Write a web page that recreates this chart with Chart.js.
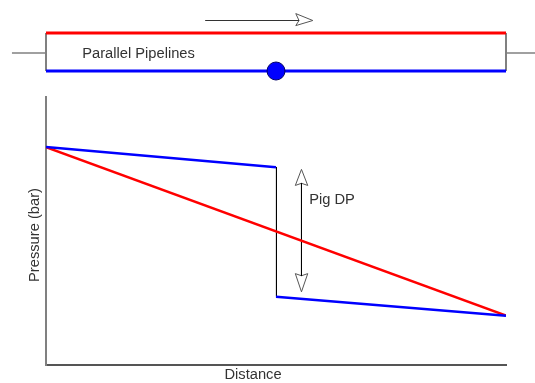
<!DOCTYPE html>
<html>
<head>
<meta charset="utf-8">
<title>Parallel Pipelines</title>
<script src="https://cdn.jsdelivr.net/npm/chart.js@4"></script>
<style>
  html, body { margin: 0; padding: 0; background: #fff; overflow: hidden; }
  .box { position: absolute; left: 0; width: 535px; }
  #pipeBox { top: 0; height: 90px; }
  #pressureBox { top: 90px; height: 293px; }
</style>
</head>
<body>
<div class="box" id="pipeBox"><canvas id="pipes"></canvas></div>
<div class="box" id="pressureBox"><canvas id="pressure"></canvas></div>
<script>
// pressure profile along the pipeline, distance 0-100
const upstreamX = [0, 50];
const upstreamP = [81.3, 73.8];
const downstreamX = [50, 100];
const downstreamP = [25.5, 18.4];
const dropX = [50.1, 50.1];
const dropP = [73.8, 25.5];
const redDistance = [0, 100];
const redLine = [81.3, 18.4];
const dpArrowX = [55.54, 55.54];
const dpArrowY = [67.8, 33.3];
const dpHeadX = [54.2, 55.54, 56.9, 55.54, 54.2];
const dpHeadTopY = [67, 73, 67, 67.8, 67];
const dpHeadBottomY = [34.1, 27.3, 34.1, 33.3, 34.1];

// schematic above the plot, same distance scale
const pipeX = [0, 100];
const redPipe = [57, 57];
const bluePipe = [19, 19];
const endY = [19, 57];
const stubLeftX = [-7.4, 0];
const stubRightX = [100, 106.3];
const stubY = [37, 37];
const flowX = [34.6, 55];
const flowY = [69.5, 69.5];
const flowHeadX = [54.3, 58, 54.3, 55, 54.3];
const flowHeadY = [76.4, 69.5, 64.4, 69.5, 76.4];
const pigX = [50];
const pigY = [19];

const font = "14.7px 'Liberation Sans', Arial, sans-serif";
const textColor = "#333333";

function line(xs, ys, color, width, extra) {
  return Object.assign({
    data: xs.map(function (x, i) { return { x: x, y: ys[i] }; }),
    showLine: true,
    borderColor: color,
    backgroundColor: color,
    borderWidth: width,
    pointRadius: 0,
    tension: 0,
    fill: false,
  }, extra || {});
}

// text placed at pixel positions of the canvas
function textPlugin(items) {
  return {
    id: "texts",
    afterDraw: function (chart) {
      const c = chart.ctx;
      items.forEach(function (t) {
        c.save();
        c.font = font;
        c.fillStyle = textColor;
        c.textAlign = "center";
        c.textBaseline = "middle";
        c.translate(t.x, t.y);
        if (t.rotate) c.rotate(-Math.PI / 2);
        c.fillText(t.text, 0, 0);
        c.restore();
      });
    },
  };
}

Chart.defaults.animation = false;
Chart.defaults.responsive = true;
Chart.defaults.maintainAspectRatio = false;
Chart.defaults.plugins.legend.display = false;
Chart.defaults.plugins.tooltip.enabled = false;

new Chart(document.getElementById("pipes"), {
  type: "scatter",
  data: {
    datasets: [
      line(pigX, pigY, "#0000ff", 1, { showLine: false, pointRadius: 9, pointBorderColor: "#000066", pointBackgroundColor: "#0000ff", order: 1 }),
      line(pipeX, redPipe, "#ff0000", 3, { order: 2 }),
      line(pipeX, bluePipe, "#0000ff", 3, { order: 2 }),
      line([0, 0], endY, "#808080", 2, { order: 3 }),
      line([100, 100], endY, "#808080", 2, { order: 3 }),
      line(stubLeftX, stubY, "#808080", 1.5, { order: 3 }),
      line(stubRightX, stubY, "#808080", 1.5, { order: 3 }),
      line(flowX, flowY, "#333333", 1, { order: 3 }),
      line(flowHeadX, flowHeadY, "#555555", 1, { order: 3 }),
    ],
  },
  options: {
    layout: { padding: 0, autoPadding: false },
    scales: {
      x: { type: "linear", display: false, min: -10, max: 106.3 },
      y: { type: "linear", display: false, min: 0, max: 90 },
    },
  },
  plugins: [textPlugin([{ text: "Parallel Pipelines", x: 138.5, y: 54 }])],
});

new Chart(document.getElementById("pressure"), {
  type: "scatter",
  data: {
    datasets: [
      line(redDistance, redLine, "#ff0000", 2.5, { order: 2 }),
      line(upstreamX, upstreamP, "#0000ff", 2.5, { order: 1 }),
      line(downstreamX, downstreamP, "#0000ff", 2.5, { order: 1 }),
      line(dropX, dropP, "#000000", 1, { order: 3 }),
      line(dpArrowX, dpArrowY, "#000000", 1, { order: 3 }),
      line(dpHeadX, dpHeadTopY, "#555555", 1, { order: 3 }),
      line(dpHeadX, dpHeadBottomY, "#555555", 1, { order: 3 }),
    ],
  },
  options: {
    layout: { padding: { left: 38, right: 29, top: 7, bottom: 10 }, autoPadding: false },
    scales: {
      x: {
        type: "linear", min: 0, max: 100,
        grid: { display: false },
        ticks: { display: false },
        border: { color: "#555555", width: 2 },
      },
      y: {
        type: "linear", min: 0, max: 100,
        grid: { display: false },
        ticks: { display: false },
        border: { color: "#808080", width: 2 },
      },
    },
  },
  plugins: [textPlugin([
    { text: "Distance", x: 253, y: 285 },
    { text: "Pressure (bar)", x: 35, y: 145, rotate: true },
    { text: "Pig DP", x: 332, y: 110 },
  ])],
});
</script>
</body>
</html>
